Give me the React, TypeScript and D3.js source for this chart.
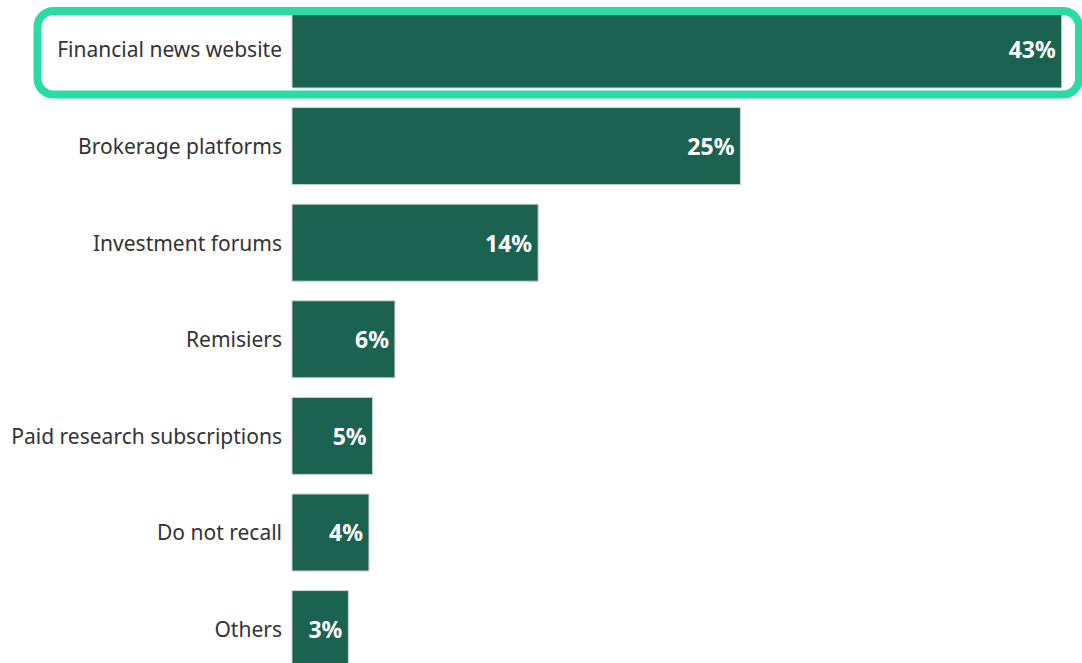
import React from 'react';
import * as d3 from 'd3';

const categories = [
  'Financial news website',
  'Brokerage platforms',
  'Investment forums',
  'Remisiers',
  'Paid research subscriptions',
  'Do not recall',
  'Others',
];
// share of respondents (%)
const values = [43, 25.05, 13.75, 5.75, 4.5, 4.3, 3.15];
const valueLabels = ['43%', '25%', '14%', '6%', '5%', '4%', '3%'];
const highlighted = 'Financial news website';

const W = 1082;
const H = 663;
const barColor = '#1b6350';
const highlightColor = '#2bdba5';
const font = "'Noto Sans', sans-serif";

export default function App() {
  const x = d3.scaleLinear().domain([0, 43]).range([292, 1061.7]);
  // step 96.6px, bar 77px
  const y = d3
    .scaleBand<string>()
    .domain(categories)
    .range([11, 11 + 96.6 * (categories.length - 0.203)])
    .paddingInner(0.203)
    .paddingOuter(0);
  const bh = y.bandwidth();

  return (
    <div style={{ position: 'absolute', left: 0, top: 0 }}>
      <svg width={W} height={H} style={{ display: 'block', background: '#fff' }}>
        {categories.map((c, i) => {
          const y0 = y(c)!;
          const x1 = x(values[i]);
          return (
            <g key={c}>
              <rect
                x={x(0)}
                y={y0}
                width={x1 - x(0)}
                height={bh}
                fill={barColor}
                stroke="#c4d6d0"
                strokeWidth={1}
              />
              <text
                x={282}
                y={y0 + bh / 2}
                textAnchor="end"
                dominantBaseline="central"
                fontFamily={font}
                fontSize={21}
                fill="#333"
              >
                {c}
              </text>
              <text
                x={x1 - 6}
                y={y0 + bh / 2}
                textAnchor="end"
                dominantBaseline="central"
                fontFamily={font}
                fontSize={23}
                fontWeight={700}
                fill="#fff"
              >
                {valueLabels[i]}
              </text>
            </g>
          );
        })}
        {categories
          .filter((c) => c === highlighted)
          .map((c) => (
            <rect
              key="hl"
              x={37.5}
              y={y(c)!}
              width={1041.5}
              height={83.5}
              rx={16}
              fill="none"
              stroke={highlightColor}
              strokeWidth={8}
            />
          ))}
      </svg>
    </div>
  );
}
